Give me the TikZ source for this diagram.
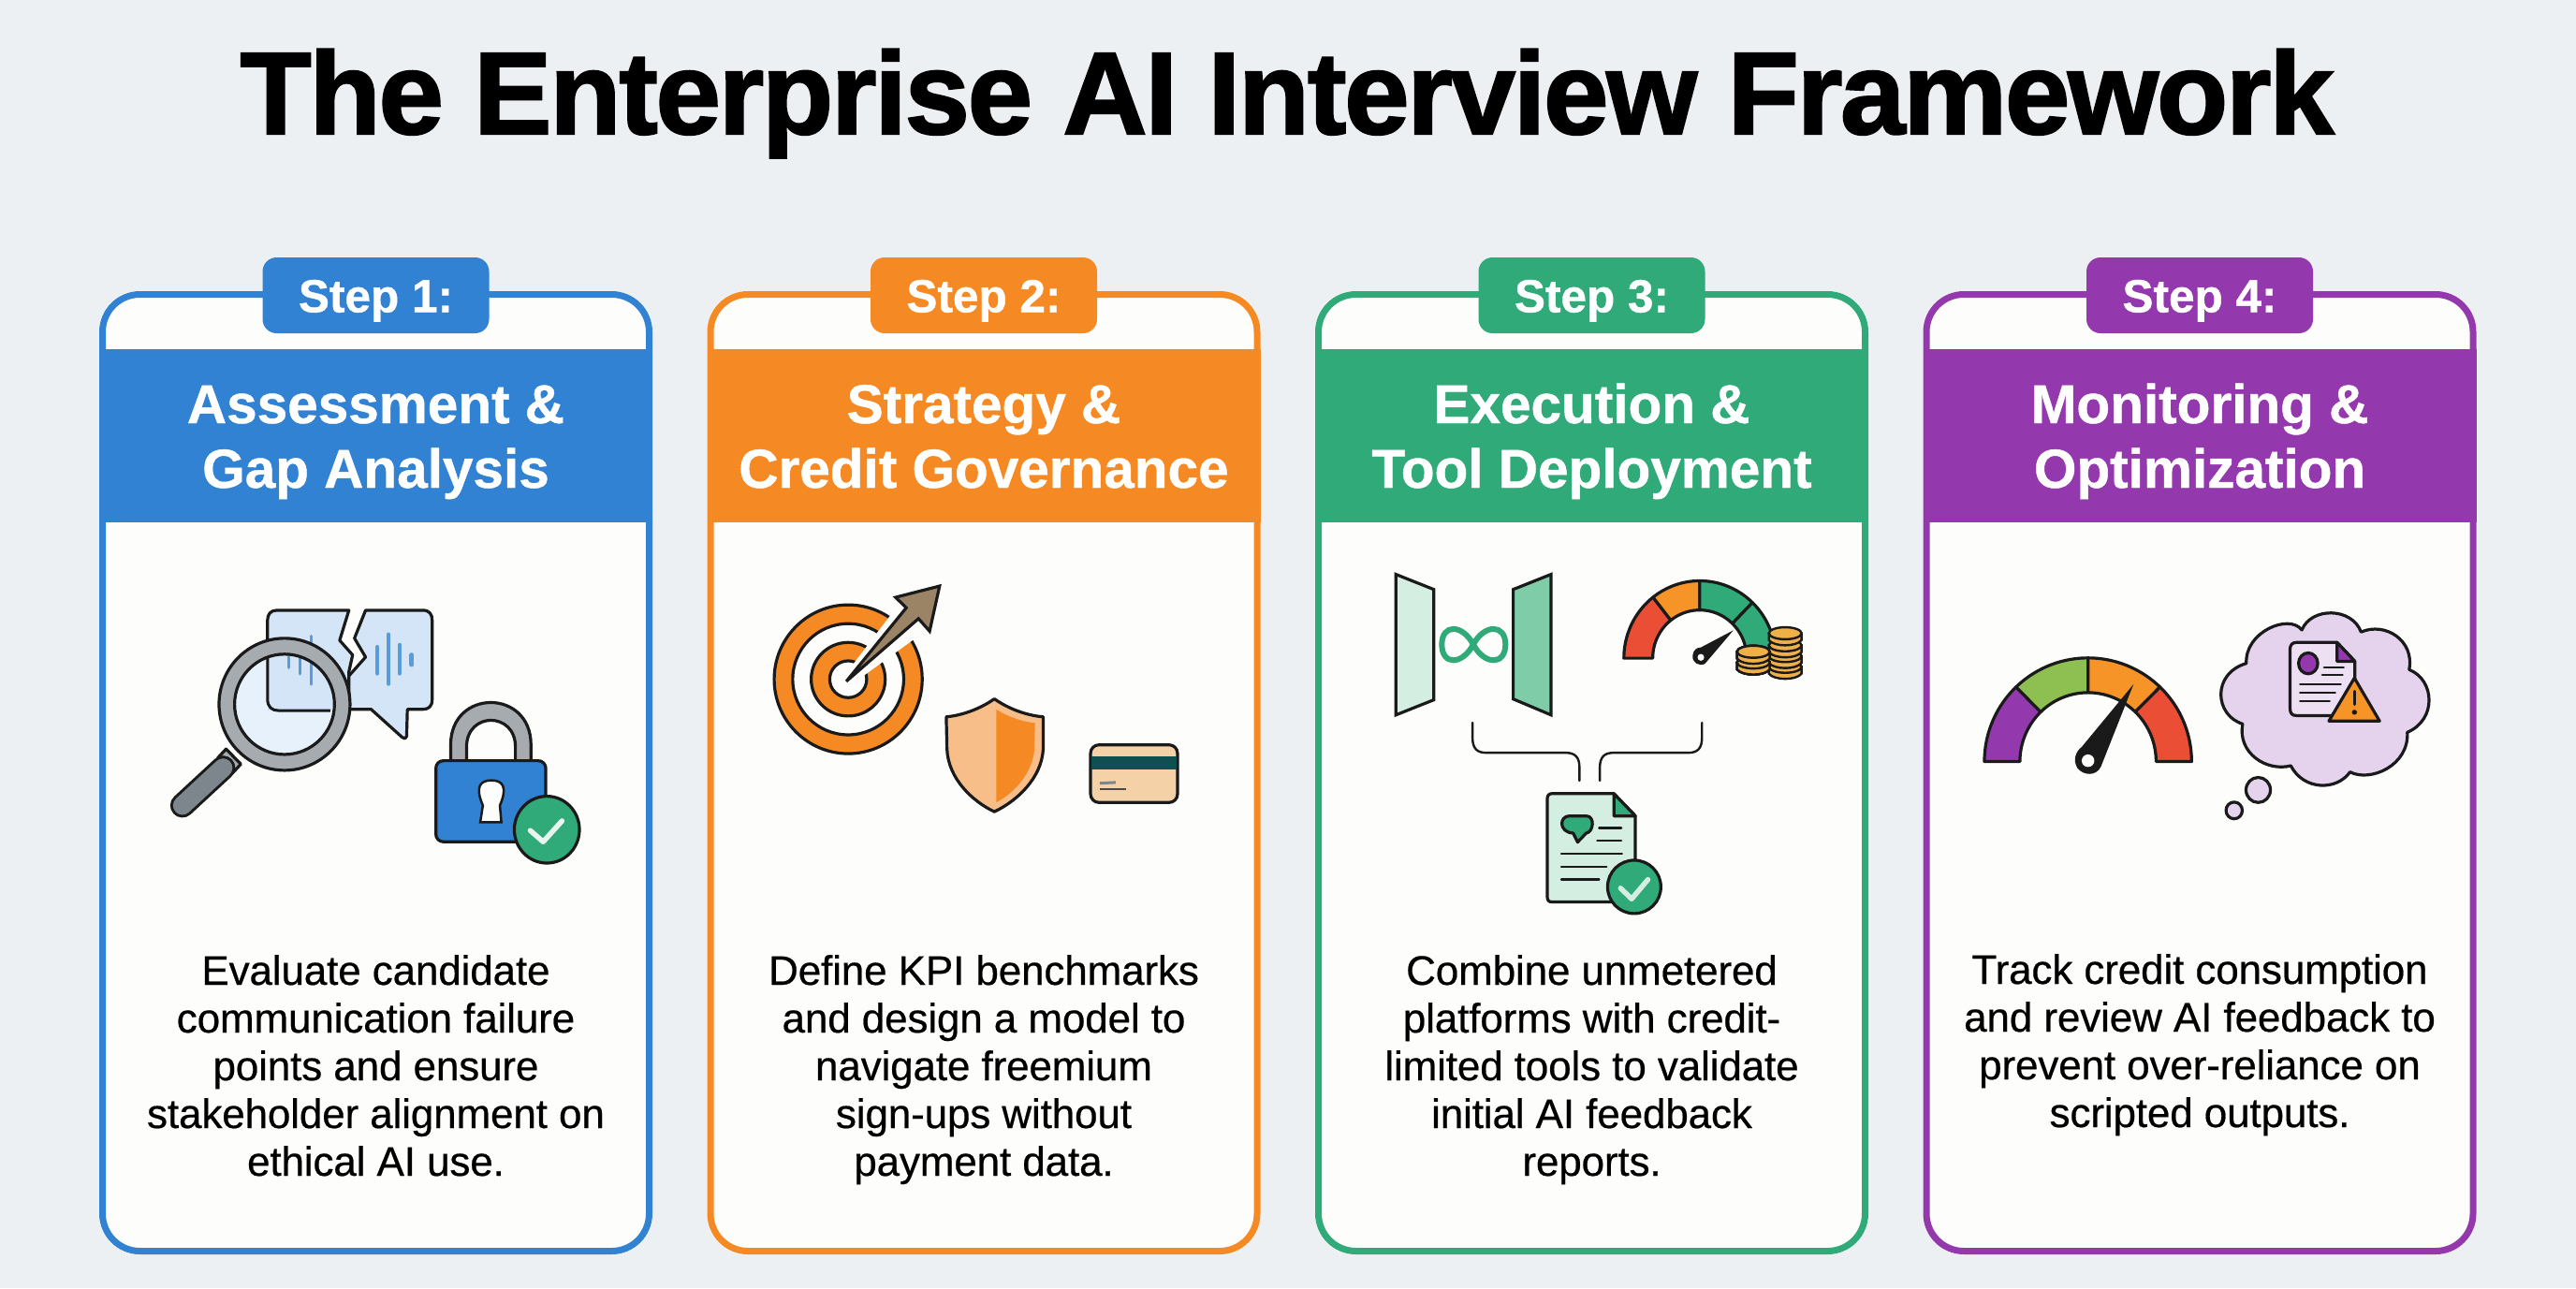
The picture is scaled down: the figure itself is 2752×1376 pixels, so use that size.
\documentclass[tikz,border=0pt]{standalone}
\usepackage{fontspec}
\setmainfont{Liberation Sans}
\newfontfamily\titlefont[BoldFeatures={FakeBold=1.6,LetterSpace=-1.9}]{Liberation Sans}
\newfontfamily\headfont[BoldFeatures={FakeBold=0.8}]{Liberation Sans}
\newfontfamily\bodyfont[FakeBold=0.5,LetterSpace=-0.3]{Liberation Sans}
\definecolor{bgc}{HTML}{EDF0F3}
\definecolor{paper}{HTML}{FDFDFB}
\definecolor{cblue}{HTML}{3182D2}
\definecolor{corange}{HTML}{F58A24}
\definecolor{cgreen}{HTML}{2FAA78}
\definecolor{cpurple}{HTML}{9438AE}
\definecolor{ink}{HTML}{1A1A1A}
\definecolor{lblue}{HTML}{D3E5F7}
\definecolor{glass}{HTML}{E6F1FB}
\definecolor{steel}{HTML}{A6ABB0}
\definecolor{slate}{HTML}{7D868C}
\definecolor{lorange}{HTML}{F8BE8A}
\definecolor{taupe}{HTML}{9B8366}
\definecolor{cardtan}{HTML}{F5D1A8}
\definecolor{teal}{HTML}{0F4F4F}
\definecolor{lgreen}{HTML}{D4EEE1}
\definecolor{mgreen}{HTML}{7FCCA8}
\definecolor{gold}{HTML}{EFB04A}
\definecolor{gred}{HTML}{EA4F35}
\definecolor{gorange}{HTML}{F79428}
\definecolor{ggreen}{HTML}{8DC050}
\definecolor{lpurple}{HTML}{E5D3EE}
\tikzset{
  outline/.style={draw=ink,line width=3.2pt,line join=round,line cap=round},
  thinline/.style={draw=ink,line width=2.4pt,line cap=round},
  titletext/.style={font=\titlefont\fontsize{125}{125}\selectfont\bfseries,text=black,inner sep=0pt,anchor=base},
  badgebox/.style={rounded corners=15pt,minimum width=242pt,minimum height=81pt,inner sep=0pt,text=white,text height=36pt,text depth=0pt,font=\headfont\fontsize{49.5}{49.5}\selectfont\bfseries},
  headtext/.style={font=\headfont\fontsize{58.5}{69}\selectfont\bfseries,text=white,align=center,inner sep=0pt,anchor=base},
  bodytext/.style={font=\bodyfont\fontsize{44}{51}\selectfont,text=black,align=center,inner sep=0pt,anchor=base},
  zoomA/.style={shift={(100,260)},x=0.3953pt,y=-0.4464pt},
  zoomB/.style={shift={(750,260)},x=0.3953pt,y=-0.4464pt},
  zoomC/.style={shift={(1400,260)},x=0.3953pt,y=-0.4592pt},
  zoomD/.style={shift={(2050,260)},x=0.3953pt,y=-0.4464pt},
}
% #1 index, #2 left edge, #3 colour, #4 first heading line, #5 second heading line, #6 baseline of the last body line, #7 body
\newcommand{\stepcard}[7]{%
  \pgfmathsetmacro{\cardL}{#2}\pgfmathsetmacro{\cardR}{#2+591}\pgfmathsetmacro{\cardC}{#2+295.5}
  \fill[paper,rounded corners=42pt] (\cardL,311) rectangle (\cardR,1340);
  \fill[#3] (\cardL,372.5) rectangle (\cardR,558);
  \draw[#3,line width=7pt,rounded corners=40pt] (\cardL+3.5,314.5) rectangle (\cardR-3.5,1336.5);
  \node[badgebox,fill=#3] (badge#1) at (\cardC,315.5) {Step #1:};
  \node[headtext] (head#1) at (\cardC,521) {#4\\#5};
  \node[bodytext] (body#1) at (\cardC,#6) {#7};
}
% gauge ring segment in the current scope
\newcommand{\gaugeseg}[9]{%
  \draw[outline,fill=#9] plot[domain=#7:#8,samples=24] ({#1+#3*cos(\x)},{#2-#4*sin(\x)})
    -- plot[domain=#8:#7,samples=24] ({#1+#5*cos(\x)},{#2-#6*sin(\x)}) -- cycle;
}
\newcommand{\coinat}[2]{%
  \draw[thinline,fill=gold] ({#1-44},#2) -- ({#1-44},{#2+16}) .. controls ({#1-30},{#2+32}) and ({#1+30},{#2+32}) .. ({#1+44},{#2+16}) -- ({#1+44},#2) -- cycle;
  \draw[thinline,fill=gold] (#1,#2) circle [x radius=44,y radius=14];
}
\begin{document}
\begin{tikzpicture}[x=1pt,y=-1pt]
\useasboundingbox (0,0) rectangle (2752,1376);
\fill[bgc] (0,0) rectangle (2752,1376);
\node[titletext] (title) at (1375,143) {The Enterprise AI Interview Framework};

\stepcard{1}{106}{cblue}{Assessment \&}{Gap Analysis}{1256}{Evaluate candidate\\communication failure\\points and ensure\\stakeholder alignment on\\ethical AI use.}
\stepcard{2}{755.5}{corange}{Strategy \&}{Credit Governance}{1256}{Define KPI benchmarks\\and design a model to\\navigate freemium\\sign-ups without\\payment data.}
\stepcard{3}{1405}{cgreen}{Execution \&}{Tool Deployment}{1256}{Combine unmetered\\platforms with credit-\\limited tools to validate\\initial AI feedback\\reports.}
\stepcard{4}{2054.5}{cpurple}{Monitoring \&}{Optimization}{1204}{Track credit consumption\\and review AI feedback to\\prevent over-reliance on\\scripted outputs.}

% ---------- icons of step 1
\begin{scope}[zoomA]
  \draw[outline,fill=lblue] (690,878) -- (495,878) .. controls (478,878) and (470,888) .. (470,902) -- (470,1090) .. controls (470,1110) and (482,1118) .. (500,1118) -- (690,1118) -- (690,1025) -- (700,985) -- (665,950) -- cycle;
  \draw[outline,fill=lblue] (735,878) -- (890,878) .. controls (908,878) and (915,888) .. (915,902) -- (915,1092) .. controls (915,1108) and (905,1115) .. (890,1115) -- (848,1115) -- (846,1180) .. controls (845,1186) and (838,1186) .. (834,1182) -- (750,1115) -- (690,1115) -- (690,1035) -- (735,990) -- (705,945) -- cycle;
  \foreach \wx/\wa/\wb in {527/990/1015,558/985/1030,588/940/1055,767/965/1030,797/935/1055,827/960/1030}
    \draw[cblue!80,line width=3.5pt,line cap=round] (\wx,\wa) -- (\wx,\wb);
  \draw[cblue!80,line width=5pt,line cap=round] (860,985) -- (860,1008);
  % magnifier
  \draw[outline,fill=steel] (358,1210) -- (398,1246) -- (375,1268) -- (335,1232) -- cycle;
  \draw[ink,line width=26pt,line cap=round] (350,1255) -- (240,1345);
  \draw[slate,line width=20pt,line cap=round] (350,1255) -- (240,1345);
  \draw[outline,fill=steel] (516,1103) circle [x radius=177,y radius=158];
  \fill[paper] (516,1103) circle [x radius=135,y radius=120];
  \begin{scope}
    \clip (516,1103) circle [x radius=135,y radius=120];
    \fill[glass] (381,983) rectangle (651,1223);
    \fill[lblue] (470,983) rectangle (651,1118);
    \draw[ink,line width=3pt] (470,983) -- (470,1090) .. controls (470,1110) and (482,1118) .. (500,1118) -- (640,1118);
    \foreach \wx/\wa/\wb in {527/990/1015,558/985/1030,588/940/1055}
      \draw[cblue!80,line width=3.5pt,line cap=round] (\wx,\wa) -- (\wx,\wb);
  \end{scope}
  \draw[outline] (516,1103) circle [x radius=135,y radius=120];
  % padlock
  \draw[outline,fill=steel] (965,1240) -- (965,1200) .. controls (965,1065) and (1182,1065) .. (1182,1200) -- (1182,1240) -- (1140,1240) -- (1140,1205) .. controls (1140,1120) and (1008,1120) .. (1008,1205) -- (1008,1240) -- cycle;
  \draw[outline,fill=cblue,rounded corners=8pt] (925,1238) rectangle (1222,1432);
  \fill[paper,draw=ink,line width=2.5pt] (1052,1345) .. controls (1030,1300) and (1045,1285) .. (1075,1285) .. controls (1105,1285) and (1120,1300) .. (1098,1345) -- (1102,1385) -- (1045,1385) -- cycle;
  \draw[outline,fill=cgreen] (1225,1403) circle [x radius=88,y radius=80];
  \draw[paper!90!cgreen,line width=5.5pt,line cap=round,line join=round] (1180,1405) -- (1215,1432) -- (1266,1382);
\end{scope}

% ---------- icons of step 2
\begin{scope}[zoomB]
  \draw[outline,fill=corange] (395,1043) circle [x radius=200,y radius=178];
  \draw[outline,fill=paper] (395,1043) circle [x radius=150,y radius=133];
  \draw[outline,fill=corange] (395,1043) circle [x radius=100,y radius=88];
  \draw[outline,fill=paper] (395,1043) circle [x radius=50,y radius=44];
  \fill[paper] (380,1040) -- (535,860) -- (600,930) -- (405,1055) -- cycle;
  \draw[outline,fill=taupe,line join=miter] (390,1048) -- (552,872) -- (523,847) -- (642,820) -- (615,928) -- (585,898) -- cycle;
  \draw[outline,fill=lorange] (790,1090) .. controls (750,1115) and (700,1130) .. (660,1133) -- (662,1210) .. controls (665,1280) and (730,1335) .. (790,1360) .. controls (850,1335) and (918,1280) .. (922,1210) -- (922,1133) .. controls (880,1130) and (830,1115) .. (790,1090) -- cycle;
  \fill[corange] (795,1115) .. controls (830,1135) and (870,1145) .. (900,1148) -- (898,1210) .. controls (895,1265) and (845,1315) .. (795,1338) -- cycle;
  \draw[outline,fill=cardtan,rounded corners=9pt] (1050,1200) rectangle (1285,1338);
  \fill[teal] (1052,1228) rectangle (1283,1258);
  \draw[slate,line width=3pt] (1075,1292) -- (1118,1290);
  \draw[ink!80,line width=2.5pt] (1075,1306) -- (1145,1306);
\end{scope}

% ---------- icons of step 3
\begin{scope}[zoomC]
  \draw[outline,fill=lgreen,line join=miter] (231,770) -- (333,805) -- (333,1062) -- (231,1097) -- cycle;
  \draw[outline,fill=mgreen,line join=miter] (548,805) -- (650,770) -- (650,1097) -- (548,1060) -- cycle;
  \draw[cgreen,line width=6pt] (440,933) .. controls (470,885) and (527,885) .. (527,933) .. controls (527,982) and (470,982) .. (440,933) .. controls (410,885) and (355,885) .. (355,933) .. controls (355,982) and (410,982) .. (440,933) -- cycle;
  \gaugeseg{1052}{965}{205}{180}{127}{112}{180}{128}{gred}
  \gaugeseg{1052}{965}{205}{180}{127}{112}{128}{90}{gorange}
  \gaugeseg{1052}{965}{205}{180}{127}{112}{90}{46}{cgreen}
  \gaugeseg{1052}{965}{205}{180}{127}{112}{46}{0}{cgreen}
  \fill[ink] (1143,900) -- (1066,978) .. controls (1050,985) and (1030,975) .. (1033,958) .. controls (1035,945) and (1045,940) .. (1055,940) -- cycle;
  \fill[paper] (1055,963) circle [x radius=9,y radius=8];
  \foreach \cy in {985,960,935,907} \coinat{1283}{\cy}
  \foreach \cy in {975,950} \coinat{1197}{\cy}
  \coordinate (leftbranch) at (438,1115);
  \coordinate (rightbranch) at (1058,1115);
  \coordinate (leftdrop) at (727,1250);
  \coordinate (rightdrop) at (782,1250);
  \draw[thinline] (leftbranch) -- (438,1150) .. controls (438,1175) and (450,1185) .. (475,1185) -- (690,1185) .. controls (715,1185) and (727,1195) .. (727,1220) -- (leftdrop);
  \draw[thinline] (rightbranch) -- (1058,1150) .. controls (1058,1175) and (1046,1185) .. (1021,1185) -- (819,1185) .. controls (794,1185) and (782,1195) .. (782,1220) -- (rightdrop);
  \draw[outline,fill=lgreen] (820,1280) -- (652,1280) .. controls (644,1280) and (640,1285) .. (640,1292) -- (640,1520) .. controls (640,1528) and (644,1532) .. (652,1532) -- (878,1532) -- (878,1332) -- cycle;
  \draw[outline,fill=cgreen] (820,1280) -- (878,1332) -- (820,1332) -- cycle;
  \draw[outline,fill=cgreen] (700,1332) -- (745,1332) .. controls (770,1332) and (765,1370) .. (745,1372) -- (722,1393) -- (710,1372) .. controls (670,1370) and (672,1332) .. (700,1332) -- cycle;
  \foreach \la/\lb/\ly in {780/840/1360,775/840/1390,678/842/1420,678/800/1450,678/780/1480}
    \draw[thinline] (\la,\ly) -- (\lb,\ly);
  \draw[outline,fill=cgreen] (875,1497) circle [x radius=72,y radius=62];
  \draw[lgreen,line width=5.5pt,line cap=round,line join=round] (838,1500) -- (868,1525) -- (912,1480);
\end{scope}

% ---------- icons of step 4
\begin{scope}[zoomD]
  \gaugeseg{457}{1240}{280}{248}{184}{165}{180}{134}{cpurple}
  \gaugeseg{457}{1240}{280}{248}{184}{165}{134}{90}{ggreen}
  \gaugeseg{457}{1240}{280}{248}{184}{165}{90}{46}{gorange}
  \gaugeseg{457}{1240}{280}{248}{184}{165}{46}{0}{gred}
  \fill[ink] (580,1055) -- (492,1252) .. controls (480,1275) and (445,1275) .. (428,1255) .. controls (415,1235) and (425,1215) .. (440,1205) -- cycle;
  \fill[paper] (457,1238) circle [x radius=17,y radius=15];
  \draw[outline,fill=lpurple] (885,1005) .. controls (880,930) and (1000,885) .. (1035,925) .. controls (1060,870) and (1170,870) .. (1195,930) .. controls (1260,905) and (1340,950) .. (1325,1020) .. controls (1395,1045) and (1400,1140) .. (1320,1170) .. controls (1325,1250) and (1220,1290) .. (1165,1265) .. controls (1130,1310) and (1040,1310) .. (1005,1250) .. controls (940,1265) and (860,1220) .. (875,1150) .. controls (800,1130) and (790,1030) .. (885,1005) -- cycle;
  \draw[outline,fill=lpurple] (917,1308) circle [x radius=33,y radius=30];
  \draw[outline,fill=lpurple] (852,1357) circle [x radius=22,y radius=20];
  \draw[outline,fill=lpurple!70!paper] (1130,955) -- (1020,955) .. controls (1008,955) and (1003,962) .. (1003,972) -- (1003,1112) .. controls (1003,1124) and (1008,1130) .. (1020,1130) -- (1178,1130) -- (1178,1000) -- cycle;
  \draw[outline,fill=cpurple] (1130,955) -- (1178,1000) -- (1130,1000) -- cycle;
  \draw[outline,fill=cpurple] (1052,1005) circle [x radius=26,y radius=25];
  \foreach \la/\lb/\ly in {1095/1148/1015,1090/1145/1033,1030/1140/1055,1030/1125/1075,1030/1110/1095}
    \draw[thinline] (\la,\ly) -- (\lb,\ly);
  \draw[outline,fill=gorange] (1177,1040) -- (1245,1143) -- (1108,1143) -- cycle;
  \draw[ink,line width=3.5pt,line cap=round] (1177,1072) -- (1177,1103);
  \fill[ink] (1177,1122) circle [x radius=7,y radius=6];
\end{scope}
\end{tikzpicture}
\end{document}
